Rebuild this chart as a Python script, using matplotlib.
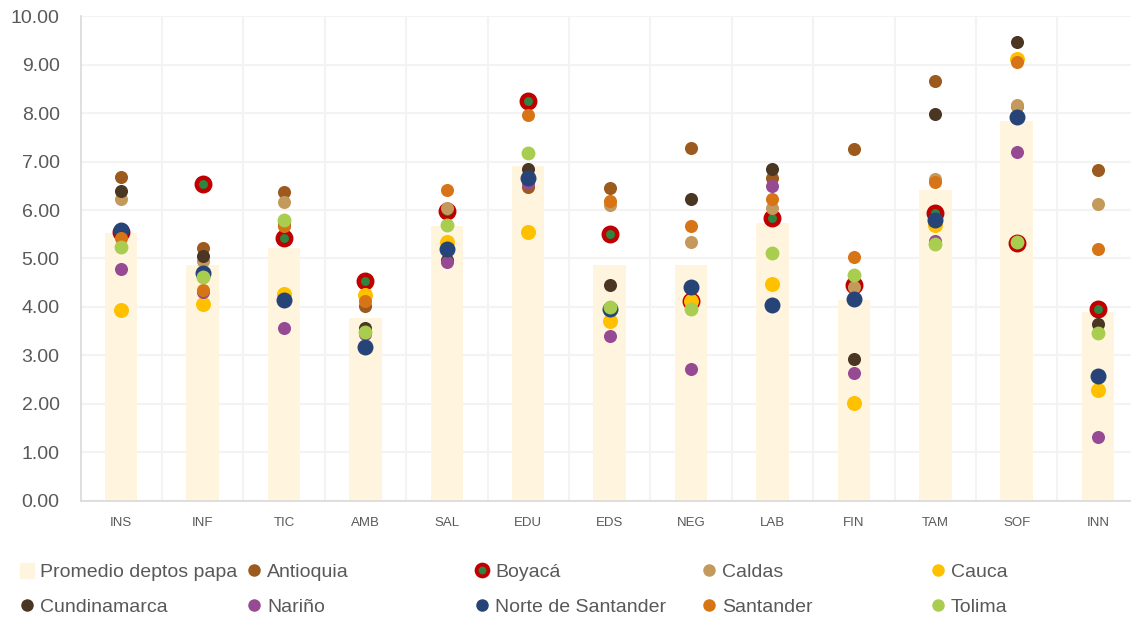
import matplotlib
matplotlib.use('Agg')
import matplotlib.pyplot as plt
from matplotlib.lines import Line2D
from matplotlib.patches import Patch
import numpy as np

# datos por dimensión
categorias = ['INS', 'INF', 'TIC', 'AMB', 'SAL', 'EDU', 'EDS', 'NEG', 'LAB', 'FIN', 'TAM', 'SOF', 'INN']
promedio = [5.52, 4.86, 5.21, 3.78, 5.66, 6.90, 4.86, 4.86, 5.74, 4.15, 6.42, 7.83, 3.90]
antioquia = [6.68, 5.22, 6.37, 4.01, 6.00, 6.47, 6.45, 7.28, 6.67, 7.25, 8.66, 8.14, 6.83]
boyaca = [5.54, 6.53, 5.43, 4.53, 5.97, 8.24, 5.50, 4.12, 5.84, 4.46, 5.94, 5.32, 3.95]
caldas = [6.22, 4.94, 6.16, 3.52, 6.04, 6.62, 6.11, 5.34, 6.05, 4.41, 6.65, 8.16, 6.12]
cauca = [3.93, 4.06, 4.26, 4.25, 5.35, 5.54, 3.71, 4.13, 4.47, 2.01, 5.70, 9.12, 2.29]
cundinamarca = [6.39, 5.05, 5.70, 3.56, 4.97, 6.85, 4.45, 6.23, 6.85, 2.93, 7.98, 9.46, 3.65]
narino = [4.78, 4.30, 3.56, 3.45, 4.92, 6.56, 3.40, 2.72, 6.49, 2.64, 5.36, 7.20, 1.32]
norte = [5.59, 4.71, 4.15, 3.18, 5.20, 6.67, 3.95, 4.41, 4.04, 4.17, 5.80, 7.93, 2.58]
santander = [5.43, 4.35, 5.66, 4.13, 6.42, 7.97, 6.18, 5.67, 6.22, 5.02, 6.58, 9.06, 5.19]
tolima = [5.23, 4.61, 5.79, 3.48, 5.70, 7.17, 3.99, 3.95, 5.11, 4.66, 5.30, 5.34, 3.46]

plt.rcParams['font.family'] = ['Liberation Sans', 'DejaVu Sans']
gris = '#595959'

fig = plt.figure(figsize=(11.31, 6.21), dpi=100)
ax = fig.add_axes([80.5/1131, 0.1937, 1 - 80.5/1131, 0.7802])

x = np.arange(len(categorias))
ax.bar(x, promedio, width=0.4, color='#FFF5DF', zorder=1)

# (nombre, valores, color, tamaño)
series = [
    ('Antioquia', antioquia, '#9C5A1E', 9.4),
    ('Boyacá', boyaca, None, None),
    ('Caldas', caldas, '#C49A5C', 9.4),
    ('Cauca', cauca, '#FFC000', 10.8),
    ('Cundinamarca', cundinamarca, '#4B3624', 9.4),
    ('Nariño', narino, '#974A94', 9.4),
    ('Norte de Santander', norte, '#264478', 11.5),
    ('Santander', santander, '#D67416', 9.4),
    ('Tolima', tolima, '#A9CD4F', 10.0),
]

handles = [Patch(color='#FFF5DF', label='Promedio deptos papa')]
for i, (nombre, vals, col, ms) in enumerate(series):
    if nombre == 'Boyacá':
        ax.plot(x, vals, ls='none', marker='o', ms=9.7, mfc='#2E8540', mec='#C00000',
                mew=3.2, zorder=3 + i, clip_on=False)
        handles.append(Line2D([], [], ls='none', marker='o', ms=8.5, mfc='#2E8540',
                              mec='#C00000', mew=2.8, label=nombre))
    else:
        ax.plot(x, vals, ls='none', marker='o', ms=ms, mfc=col, mec='none',
                zorder=3 + i, clip_on=False)
        handles.append(Line2D([], [], ls='none', marker='o', ms=9, mfc=col,
                              mec='none', label=nombre))

ax.set_ylim(0, 10)
ax.set_xlim(-0.5, 12.405)
ax.set_yticks(np.arange(0, 11, 1))
ax.set_yticklabels([f'{v:.2f}' for v in np.arange(0, 11, 1)])
ax.set_xticks(x)
ax.set_xticklabels(categorias)
ax.set_xticks(np.arange(0.5, 12.5, 1), minor=True)
ax.tick_params(axis='y', length=0, pad=15, labelsize=14, labelcolor=gris)
ax.tick_params(axis='x', which='both', length=0, pad=12, labelsize=9.5, labelcolor=gris)
ax.grid(axis='y', color='#F3F3F3', lw=1.5, zorder=0)
ax.grid(axis='x', which='minor', color='#F3F3F3', lw=1.5, zorder=0)
ax.set_axisbelow(True)
for s in ['top', 'right']:
    ax.spines[s].set_visible(False)
ax.spines['left'].set_color('#D9D9D9')
ax.spines['bottom'].set_color('#D9D9D9')
ax.spines['left'].set_linewidth(1.2)
ax.spines['bottom'].set_linewidth(1.2)

# leyenda en 5 columnas de ancho fijo
col_x = [27, 254, 482, 709, 938]
for c in range(5):
    hs = [handles[c], handles[c + 5]]
    leg = fig.legend(handles=hs, loc='center left',
                     bbox_to_anchor=((col_x[c] - 6.5) / 1131, (621 - 589.5) / 621),
                     frameon=False, fontsize=14, handlelength=0.7, handleheight=0.75,
                     handletextpad=0.3, labelspacing=0.85, borderpad=0, borderaxespad=0)
    for t in leg.get_texts():
        t.set_color(gris)

fig.savefig('out.png', dpi=100)
